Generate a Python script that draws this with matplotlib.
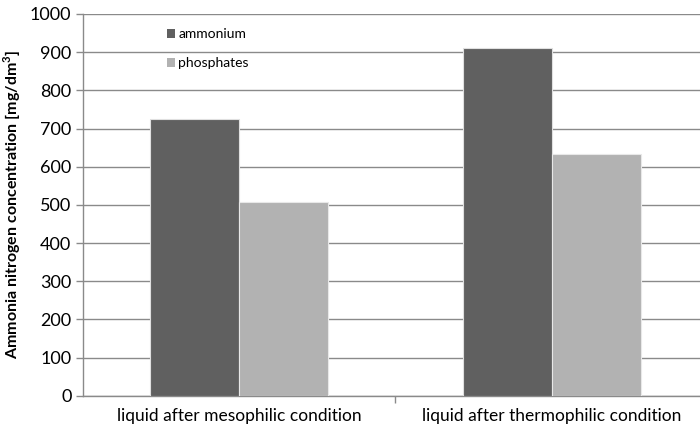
import matplotlib
matplotlib.use("Agg")
import matplotlib.pyplot as plt
import numpy as np
from matplotlib.patches import Patch

plt.rcParams['font.family'] = ['Lato', 'DejaVu Sans']

categories = ["liquid after mesophilic condition", "liquid after thermophilic condition"]
series_names = ["ammonium", "phosphates"]
ammonium = [724, 911]
phosphates = [507, 634]
colors = ["#606060", "#b2b2b2"]
yticks = [0, 100, 200, 300, 400, 500, 600, 700, 800, 900, 1000]

fig = plt.figure(figsize=(7, 4.29), dpi=100)
ax = fig.add_axes([82.5/700, 1-395.7/429, 626/700, 381.7/429])

x = np.arange(len(categories))
w = 0.284
ax.bar(x - w/2, ammonium, width=w, color=colors[0], edgecolor="#e0e0e0", linewidth=0.8, zorder=3)
ax.bar(x + w/2, phosphates, width=w, color=colors[1], edgecolor="#e8e8e8", linewidth=0.8, zorder=3)

ax.set_xlim(-0.5, 1.5)
ax.set_ylim(0, 1000)
ax.set_yticks(yticks)
ax.set_yticklabels([str(v) for v in yticks], fontsize=13)
ax.yaxis.grid(True, color="#8a8a8a", linewidth=1.0, zorder=0)
ax.set_axisbelow(True)

ax.set_xticks(x)
ax.set_xticklabels(categories, fontsize=12.5)
ax.tick_params(axis='x', length=0, pad=9)
ax.set_xticks([0.5], minor=True)
ax.tick_params(axis='x', which='minor', length=5, color="#8a8a8a", width=1, direction='out')
ax.tick_params(axis='y', length=5, color="#8a8a8a", width=1, direction='out', pad=3)

for s in ['top', 'right']:
    ax.spines[s].set_visible(False)
for s in ['left', 'bottom']:
    ax.spines[s].set_color("#8a8a8a")
    ax.spines[s].set_linewidth(1.0)

ax.set_ylabel("Ammonia nitrogen concentration [mg/dm$^{\\mathregular{3}}$]", fontsize=11.5, fontweight='bold', labelpad=5)

handles = [Patch(facecolor=colors[0]), Patch(facecolor=colors[1])]
leg = ax.legend(handles, series_names, loc='upper left', bbox_to_anchor=(0.115, 0.995),
                frameon=False, fontsize=10, handlelength=0.6, handleheight=0.6,
                handletextpad=0.2, labelspacing=1.2)

fig.savefig("out.png", dpi=100, facecolor="white")
